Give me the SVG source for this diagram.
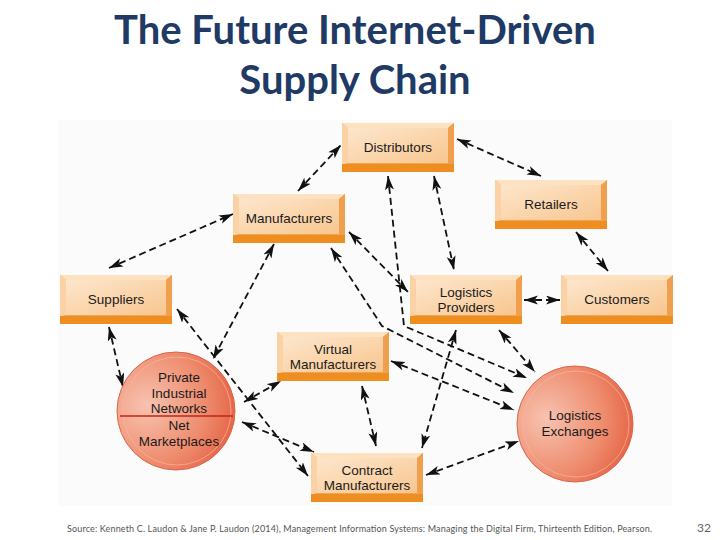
<svg xmlns="http://www.w3.org/2000/svg" xmlns:xlink="http://www.w3.org/1999/xlink" width="720" height="540" viewBox="0 0 720 540">
<style>
.title{font-family:Lato,"Open Sans","Liberation Sans",sans-serif;font-weight:bold;font-size:40px;fill:#1f3a64;text-anchor:middle}
.lbl{font-family:"Liberation Sans",Arial,sans-serif;font-size:13.5px;fill:#1a1a1a;text-anchor:middle}
.src{font-family:Lato,"Open Sans","Liberation Sans",sans-serif;font-size:9px;fill:#555}
.pg{font-family:Lato,"Open Sans","Liberation Sans",sans-serif;font-size:12px;fill:#666}
.conn path{fill:none;stroke:#111;stroke-width:1.8;stroke-dasharray:7 4;marker-start:url(#ah);marker-end:url(#ah)}
</style>
<defs>
<marker id="ah" markerUnits="userSpaceOnUse" markerWidth="16" markerHeight="10" refX="14" refY="4.5" orient="auto-start-reverse" viewBox="0 0 16 10">
<path d="M0,0 L14,4.5 L0,9 L3.5,4.5 z" fill="#111"/>
</marker>
<linearGradient id="face" x1="0" y1="0" x2="1" y2="1">
<stop offset="0" stop-color="#fde6cc"/>
<stop offset="1" stop-color="#f8c68f"/>
</linearGradient>
<radialGradient id="ball" cx="0.25" cy="0.45" r="0.85">
<stop offset="0" stop-color="#f7c3b0"/>
<stop offset="0.6" stop-color="#ee8a6c"/>
<stop offset="1" stop-color="#e2573a"/>
</radialGradient>
<g id="box">
<rect x="0" y="0" width="112" height="49" fill="#f4ab5c"/>
<polygon points="0,0 112,0 106,5 6,5" fill="#fde2c2"/>
<polygon points="0,0 6,5 6,40 0,42" fill="#fad2a5"/>
<polygon points="112,0 106,5 106,40 112,42" fill="#f0a04c"/>
<rect x="6" y="5" width="100" height="35" fill="url(#face)"/>
<polygon points="6,40 106,40 112,42 0,42" fill="#f2a450"/>
<rect x="0" y="41" width="112" height="8" fill="#ee8e20"/>
</g>
</defs>
<rect width="720" height="540" fill="#fff"/>
<rect x="58" y="120" width="614" height="386" fill="#fbfbfb"/>
<text class="title" x="355" y="44">The Future Internet-Driven</text>
<text class="title" x="355" y="94">Supply Chain</text>

<g class="conn" id="connectors">
<path d="M298,191 L341,145"/>
<path d="M109,268 L233,214"/>
<path d="M457,139 L541,176"/>
<path d="M576,232 L608,271"/>
<path d="M524,300 L560,300"/>
<path d="M434,176 L454,270"/>
<path d="M388,176 L404,326 L527,378"/>
<path d="M349,232 L408,292"/>
<path d="M274,244 L213,359"/>
<path d="M331,248 L382,326 L514,393"/>
<path d="M109,327 L123,387"/>
<path d="M177,309 L308,476"/>
<path d="M244,402 L281,381"/>
<path d="M242,422 L314,452"/>
<path d="M362,386 L376,446"/>
<path d="M391,361 L514,410"/>
<path d="M456,330 L422,448"/>
<path d="M499,330 L535,372"/>
<path d="M426,475 L519,441"/>
</g>

<g id="distributors"><use xlink:href="#box" x="342" y="123"/><text class="lbl" x="398" y="152">Distributors</text></g>
<g id="manufacturers"><use xlink:href="#box" x="233" y="194"/><text class="lbl" x="289" y="223">Manufacturers</text></g>
<g id="retailers"><use xlink:href="#box" x="495" y="180"/><text class="lbl" x="551" y="209">Retailers</text></g>
<g id="suppliers"><use xlink:href="#box" x="60" y="275"/><text class="lbl" x="116" y="304">Suppliers</text></g>
<g id="logistics-providers"><use xlink:href="#box" x="410" y="275"/><text class="lbl" x="466" y="297">Logistics</text><text class="lbl" x="466" y="312">Providers</text></g>
<g id="customers"><use xlink:href="#box" x="561" y="275"/><text class="lbl" x="617" y="304">Customers</text></g>
<g id="virtual-manufacturers"><use xlink:href="#box" x="277" y="332"/><text class="lbl" x="333" y="354">Virtual</text><text class="lbl" x="333" y="369">Manufacturers</text></g>
<g id="contract-manufacturers"><use xlink:href="#box" x="311" y="453"/><text class="lbl" x="367" y="475">Contract</text><text class="lbl" x="367" y="490">Manufacturers</text></g>

<g id="pin-net-marketplaces">
<circle cx="176" cy="411" r="59" fill="url(#ball)" stroke="#d9664a" stroke-width="1"/>
<circle cx="177" cy="411" r="54" fill="none" stroke="#f6b7a2" stroke-width="1" opacity="0.7"/>
<line x1="120" y1="416" x2="233" y2="416" stroke="#c4231b" stroke-width="1.6"/>
<text class="lbl" x="179" y="382">Private</text>
<text class="lbl" x="179" y="398">Industrial</text>
<text class="lbl" x="179" y="413">Networks</text>
<text class="lbl" x="179" y="430">Net</text>
<text class="lbl" x="179" y="446">Marketplaces</text>
</g>
<g id="logistics-exchanges">
<circle cx="575" cy="424" r="58" fill="url(#ball)" stroke="#d9664a" stroke-width="1"/>
<circle cx="576" cy="424" r="53" fill="none" stroke="#f6b7a2" stroke-width="1" opacity="0.7"/>
<text class="lbl" x="575" y="420">Logistics</text>
<text class="lbl" x="575" y="436">Exchanges</text>
</g>

<text class="src" x="67" y="532" textLength="585" lengthAdjust="spacing">Source: Kenneth C. Laudon &amp; Jane P. Laudon (2014), Management Information Systems: Managing the Digital Firm, Thirteenth Edition, Pearson.</text>
<text class="pg" x="697" y="532">32</text>
</svg>
